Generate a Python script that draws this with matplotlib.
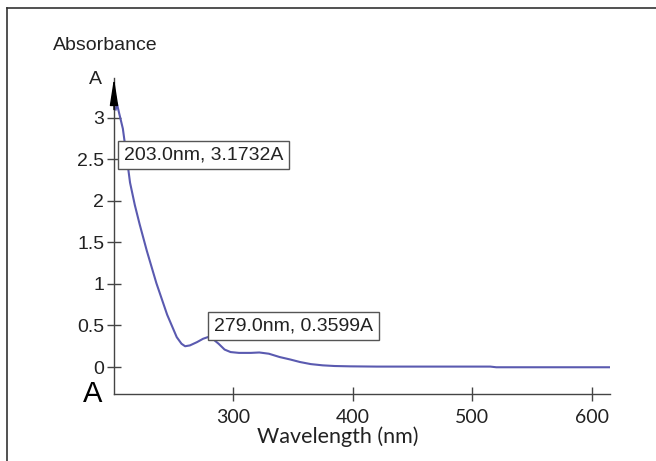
import matplotlib
matplotlib.use("Agg")
import matplotlib.pyplot as plt
from matplotlib.lines import Line2D

# ---- data ----
wavelength = [202, 203, 205, 208, 211, 214, 218, 222, 228, 236, 245, 253, 257,
              260, 264, 270, 275, 279, 283, 288, 293, 298, 305, 315, 322, 330,
              339, 348, 356, 365, 375, 385, 398, 420, 460, 515, 520, 560, 615]
absorbance = [3.10, 3.1732, 3.05, 2.87, 2.55, 2.22, 1.95, 1.72, 1.40, 1.01, 0.63,
              0.36, 0.28, 0.25, 0.26, 0.30, 0.34, 0.3599, 0.34, 0.28, 0.21, 0.18,
              0.17, 0.17, 0.175, 0.16, 0.12, 0.09, 0.06, 0.035, 0.02, 0.012, 0.008,
              0.005, 0.005, 0.005, -0.003, -0.003, -0.003]
x_ticks = [300, 400, 500, 600]
y_ticks = [0, 0.5, 1, 1.5, 2, 2.5, 3]
y_ticklabels = ["0", "0.5", "1", "1.5", "2", "2.5", "3"]
peak_labels = ["203.0nm, 3.1732A", "279.0nm, 0.3599A"]

plt.rcParams['font.family'] = ['Liberation Sans', 'DejaVu Sans']
text_color = '#222222'
axis_color = '#444444'

fig = plt.figure(figsize=(6.56, 4.61), dpi=100)
W, H = 656, 461

def fx(px):
    return px / W

def fy(py):
    return 1 - py / H

ax = fig.add_axes([fx(114), fy(394), fx(610) - fx(114), fy(78) - fy(394)])
ax.plot(wavelength, absorbance, color='#5a5ab0', lw=1.5)
ax.set_xlim(200.6, 615)
ax.set_ylim(-0.325, 3.48)

for s in ['top', 'right']:
    ax.spines[s].set_visible(False)
for s in ['left', 'bottom']:
    ax.spines[s].set_color(axis_color)
    ax.spines[s].set_linewidth(1.0)

ax.set_xticks(x_ticks)
ax.set_xticklabels([str(v) for v in x_ticks], family=['Lato', 'DejaVu Sans'],
                   fontsize=14)
ax.set_yticks(y_ticks)
ax.set_yticklabels(y_ticklabels, fontsize=14)
ax.tick_params(direction='inout', length=10, width=1.0, color=axis_color,
               labelcolor=text_color)
ax.tick_params(axis='y', pad=2)
ax.tick_params(axis='x', pad=6)
ax.set_xlabel('Wavelength (nm)', fontsize=15.5, color=text_color,
              family=['Lato', 'DejaVu Sans'])
ax.xaxis.set_label_coords((338 - 114) / 496, -0.104)

# arrow at the top of the y axis
ax.annotate('', xy=(0, 1.0), xytext=(0, 0.9), xycoords='axes fraction',
            arrowprops=dict(arrowstyle='-|>,head_length=1.1,head_width=0.17',
                            color='black', lw=1.0,
                            mutation_scale=15, shrinkA=0, shrinkB=0))

# annotation boxes
box = dict(boxstyle='square,pad=0.3', facecolor='white', edgecolor='#555555', lw=1.0)
fig.text(fx(124), fy(155), peak_labels[0], fontsize=14, color=text_color,
         ha='left', va='center', bbox=box)
fig.text(fx(214), fy(326), peak_labels[1], fontsize=14, color=text_color,
         ha='left', va='center', bbox=box)

# axis texts
fig.text(fx(105), fy(46), 'Absorbance', fontsize=14, color=text_color,
         ha='center', va='center')
fig.text(fx(95), fy(80), 'A', fontsize=14, color=text_color,
         ha='center', va='center')
fig.text(fx(93), fy(394), 'A', fontsize=21, color='black',
         ha='center', va='center')

# figure frame (left and top)
fig.add_artist(Line2D([fx(7), fx(7)], [0, fy(8)], transform=fig.transFigure,
                      color='#333333', lw=1.2))
fig.add_artist(Line2D([fx(7), 1], [fy(8), fy(8)], transform=fig.transFigure,
                      color='#333333', lw=1.2))

fig.savefig('out.png', dpi=100, facecolor='white')
